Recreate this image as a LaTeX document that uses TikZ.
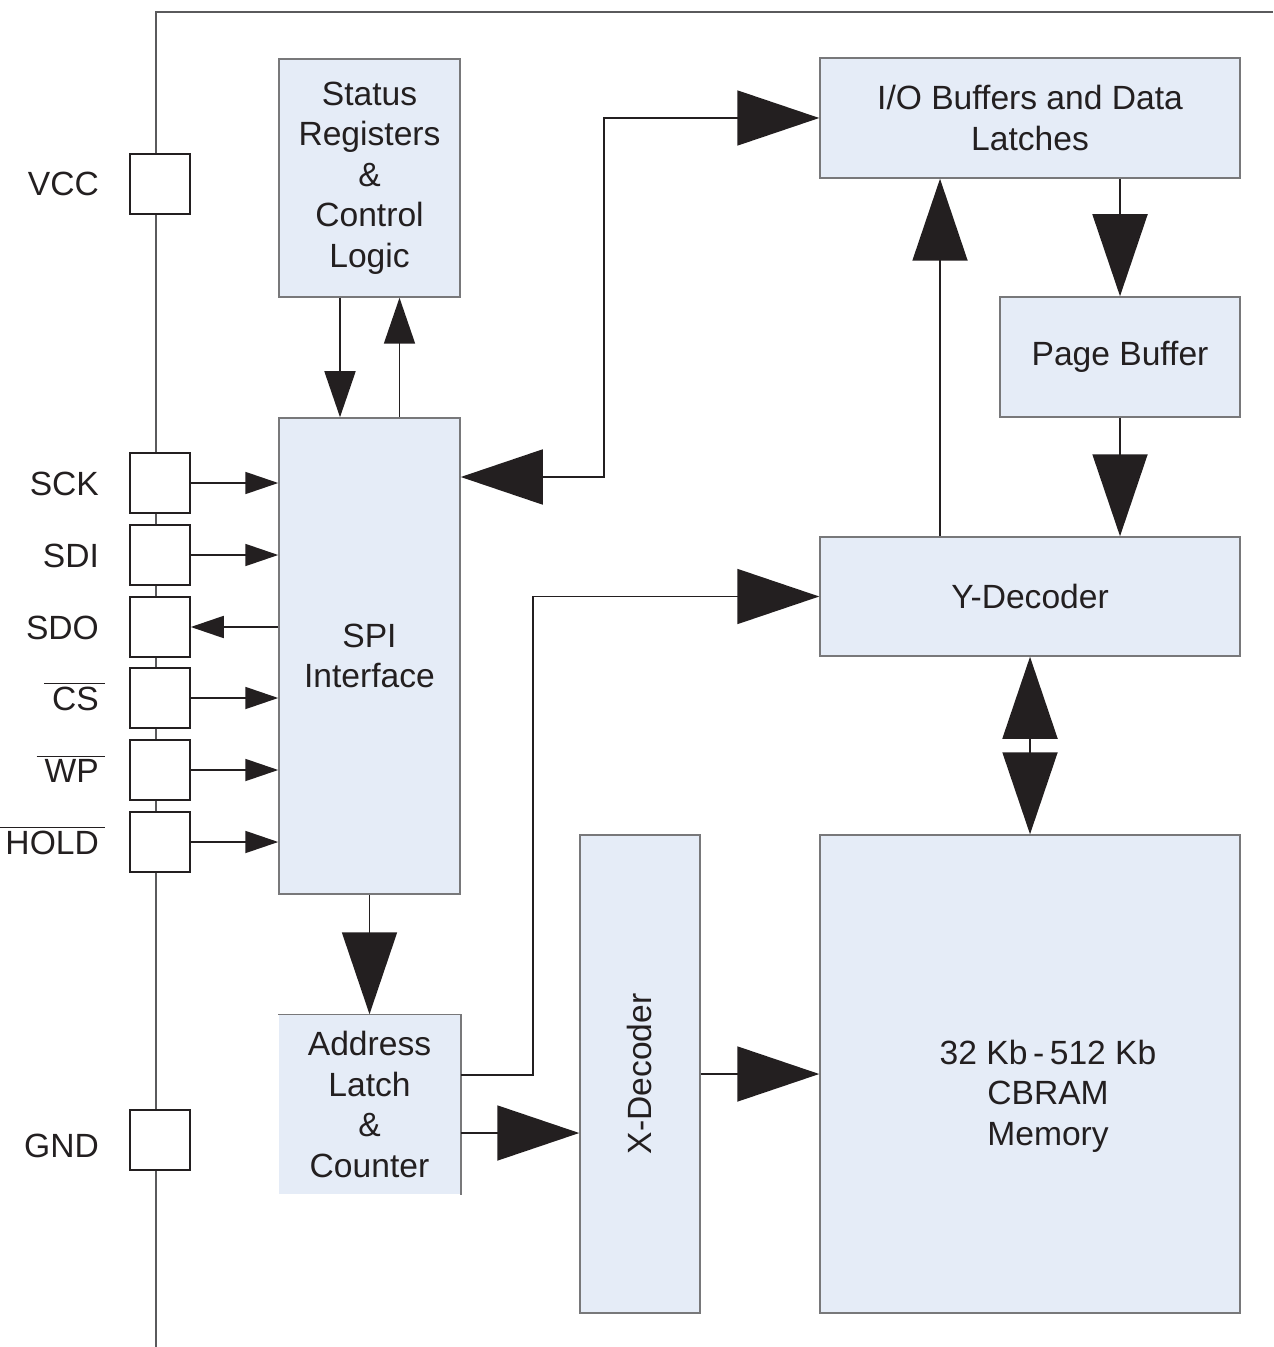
\documentclass[tikz,border=0pt]{standalone}
\usepackage{fontspec}
\setmainfont{Liberation Sans}
\usetikzlibrary{arrows.meta}
\newlength{\du}
\setlength{\du}{0.5pt}
\definecolor{blockfill}{RGB}{229,236,247}
\definecolor{blockline}{RGB}{120,120,122}
\definecolor{wireline}{RGB}{35,31,32}
\definecolor{railline}{RGB}{90,90,92}
\newcommand{\pinbar}[1]{$\overline{\mbox{\hspace{4pt}\vphantom{Ag}#1\hspace{3pt}}}$\hspace{-3pt}}
\tikzset{
  txt/.style={inner sep=0pt, align=center, text=wireline, font={\fontsize{16.8}{20.25}\selectfont}},
  block/.style={txt, draw=blockline, fill=blockfill, line width=1.5\du},
  pinbox/.style={draw=wireline, fill=white, line width=1.5\du, inner sep=0pt, minimum size=60\du},
  wire/.style={draw=wireline, line width=1.8\du},
  pinarrow/.style={wire, -{Triangle[length=16.5pt,width=11pt]}},
  midarrow/.style={wire, -{Triangle[length=23pt,width=15.5pt]}},
  bigarrow/.style={wire, -{Triangle[length=41pt,width=27.5pt]}},
  bigboth/.style={wire, {Triangle[length=41pt,width=27.5pt]}-{Triangle[length=41pt,width=27.5pt]}}
}
\begin{document}
\begin{tikzpicture}[x=\du, y=-\du]
\useasboundingbox (0,0) rectangle (1273,1347);

% supply rail
\coordinate (railbot) at (156,1347);
\coordinate (railtop) at (156,12);
\coordinate (railend) at (1273,12);
\draw[draw=railline, line width=1.5\du] (railbot) -- (railtop) -- (railend);

% blocks
\node[block, minimum width=181\du, minimum height=238\du] (status) at (369.5,178) {Status\\Registers\\\&\\Control\\Logic};
\node[block, minimum width=181\du, minimum height=476\du] (spi) at (369.5,656) {SPI\\Interface};
\node[block, draw=none, minimum width=181\du, minimum height=179\du] (addr) at (369.5,1104.5) {Address\\Latch\\\&\\Counter};
\draw[draw=blockline, line width=1.5\du] (addr.north west) -- (addr.north east) -- (addr.south east);
\node[block, minimum width=120\du, minimum height=478\du] (xdec) at (640,1074) {};
\node[txt, rotate=90] (xdectxt) at ([xshift=-1\du]xdec.center) {X-Decoder};
\node[block, minimum width=420\du, minimum height=478\du] (mem) at (1030,1074) {};
\node[txt] (memtxt) at (1048,1096) {32 Kb\,-\,512 Kb\\CBRAM\\Memory};
\node[block, minimum width=420\du, minimum height=119\du] (ydec) at (1030,596.5) {Y-Decoder};
\node[block, minimum width=240\du, minimum height=120\du] (page) at (1120,357) {Page Buffer};
\node[block, minimum width=420\du, minimum height=120\du] (io) at (1030,118) {I/O Buffers and Data\\Latches};

% pins
\foreach \nm/\yy/\dy/\lbl in {vcc/184/0/VCC, sck/483/0/SCK, sdi/555/0/SDI, sdo/627/0/SDO,
    cs/698/0/{\pinbar{CS}}, wp/770/0/{\pinbar{WP}}, hold/842/0/{\pinbar{HOLD}}, gnd/1140/5/GND}{
  \node[pinbox] (\nm) at (160,\yy) {};
  \node[txt, anchor=base east] (\nm-lbl) at ([xshift=-15pt, yshift=-12\du-\dy\du]\nm.west) {\lbl};
}

% pin connectors
\foreach \nm in {sck, sdi, cs, wp, hold}{
  \draw[pinarrow] (\nm.east) -- (\nm.east -| spi.west);
}
\draw[pinarrow] (sdo.east -| spi.west) -- (sdo.east);

% status <-> spi
\draw[midarrow] ([xshift=-29.5\du]status.south) -- ([xshift=-29.5\du]spi.north);
\draw[midarrow] ([xshift=30\du]spi.north) -- ([xshift=30\du]status.south);

% spi <-> io buffers
\draw[bigboth] ([yshift=179\du]spi.east) -- ++(143,0) |- (io.west);

% spi -> address latch
\draw[bigarrow] (spi.south) -- (addr.north);

% address latch -> y-decoder, x-decoder
\draw[bigarrow] ([yshift=29.5\du]addr.east) -- ++(72,0) |- (ydec.west);
\draw[bigarrow] ([yshift=-28.5\du]addr.east) -- ([yshift=-28.5\du]addr.east -| xdec.west);

% x-decoder -> memory
\draw[bigarrow] (xdec.east) -- (mem.west);

% data path
\draw[bigarrow] ([xshift=90\du]io.south) -- (page.north);
\draw[bigarrow] (page.south) -- (page.south |- ydec.north);
\draw[bigarrow] ([xshift=-90\du]ydec.north) -- ([xshift=-90\du]io.south);
\draw[bigboth] (ydec.south) -- (mem.north);
\end{tikzpicture}
\end{document}
